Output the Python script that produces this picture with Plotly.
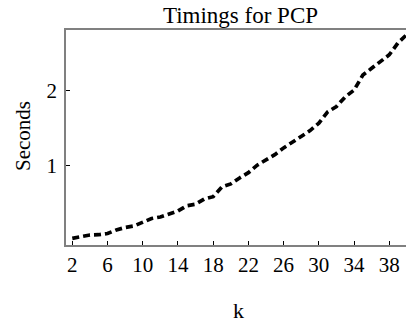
import plotly.graph_objects as go

k_values = list(range(2, 41))
seconds = [0.036, 0.058, 0.08, 0.084, 0.10, 0.147, 0.18, 0.20, 0.244, 0.30,
           0.32, 0.36, 0.40, 0.47, 0.49, 0.56, 0.59, 0.72, 0.76, 0.84,
           0.91, 1.01, 1.08, 1.15, 1.24, 1.32, 1.40, 1.47, 1.57, 1.72,
           1.79, 1.92, 2.01, 2.21, 2.30, 2.39, 2.48, 2.64, 2.75]
x_ticks = [2, 6, 10, 14, 18, 22, 26, 30, 34, 38]
y_ticks = [1, 2]

font = "Liberation Serif, Times New Roman, serif"

FW, FH = 406, 323
L, R, T, B = 66, 406, 30, 245
W, H = R - L, B - T

fig = go.Figure(go.Scatter(
    x=k_values, y=seconds, mode="lines",
    line=dict(color="black", width=3.7, dash="7px,4px"),
    showlegend=False, hoverinfo="skip",
))

fig.update_layout(
    width=FW, height=FH,
    margin=dict(l=L, r=FW - R, t=T, b=FH - B, autoexpand=False),
    paper_bgcolor="white", plot_bgcolor="white",
    font=dict(family=font, size=21, color="black"),
    title=dict(text="Timings for PCP", x=240.5 / FW, xanchor="center",
               y=1 - 15 / FH, yanchor="middle", font=dict(size=23),
               automargin=False),
    xaxis=dict(range=[1.285, 39.9], tickvals=x_ticks, ticks="inside",
               ticklen=4, tickcolor="black", showline=True, linecolor="#808080",
               linewidth=1.5, mirror=True, showgrid=False, zeroline=False,
               automargin=False),
    yaxis=dict(range=[-0.053, 2.81], tickvals=y_ticks, ticks="inside",
               ticklen=4, tickcolor="black", showline=True, linecolor="#808080",
               linewidth=1.5, showgrid=False, zeroline=False,
               automargin=False, ticklabelstandoff=3),
    annotations=[
        dict(text="k", xref="paper", yref="paper", x=(238 - L) / W,
             y=(B - 310) / H, xanchor="center", yanchor="middle",
             showarrow=False, font=dict(size=22)),
        dict(text="Seconds", xref="paper", yref="paper", x=(23 - L) / W,
             y=(B - 136) / H, xanchor="center", yanchor="middle",
             textangle=-90, showarrow=False, font=dict(size=21)),
    ],
)

fig.write_html(
    "out.html",
    config={"displayModeBar": False},
    post_script="document.body.style.margin='0px';document.body.style.overflow='hidden';",
)
